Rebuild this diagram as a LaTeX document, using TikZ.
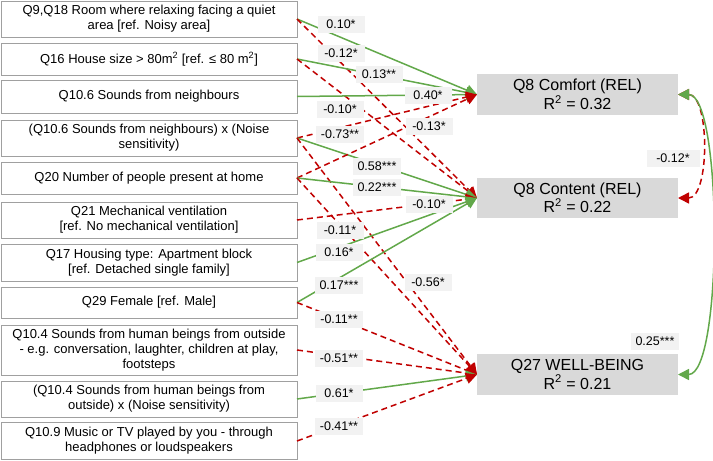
\documentclass[tikz,border=0pt]{standalone}
\usepackage{fontspec}
\setmainfont{Liberation Sans}
\usetikzlibrary{arrows.meta}
\definecolor{pgreen}{HTML}{62A84A}
\definecolor{pred}{HTML}{C00000}
\definecolor{boxgray}{HTML}{A0A0A0}
\definecolor{rfill}{HTML}{D9D9D9}
\definecolor{lfill}{HTML}{F2F2F2}
\tikzset{
  mytri/.tip={Triangle[length=11pt,width=11pt]},
  lbox/.style={draw=boxgray, line width=0.9pt, fill=white, minimum width=296pt,
    inner sep=1pt, outer sep=0pt, align=center,
    font=\fontsize{13}{15}\selectfont},
  rbox/.style={fill=rfill, minimum width=201pt, outer sep=0pt, inner sep=1pt,
    align=center, font=\fontsize{16}{18.5}\selectfont},
  posline/.style={pgreen, line width=1.5pt, -mytri},
  negline/.style={pred, line width=1.5pt, dash pattern=on 6pt off 4pt, -mytri},
  coef/.style={fill=lfill, minimum width=47pt, minimum height=17pt, inner xsep=5pt, inner ysep=1pt,
    font=\fontsize{12.5}{14}\selectfont},
}
\begin{document}
\begin{tikzpicture}[x=1pt,y=-1pt]
\useasboundingbox (0,0) rectangle (713,461);
% left boxes
\node[lbox, minimum height=36pt] (q9) at (149,19) {Q9,Q18 Room where relaxing facing a quiet\\area [ref. Noisy area]};
\node[lbox, minimum height=32pt] (q16) at (149,59) {Q16 House size > 80m\textsuperscript{2} [ref. ≤ 80 m\textsuperscript{2}]};
\node[lbox, minimum height=33pt] (q106) at (149,96.5) {Q10.6 Sounds from neighbours};
\node[lbox, minimum height=36pt] (q106x) at (149,138) {(Q10.6 Sounds from neighbours) x (Noise\\sensitivity)};
\node[lbox, minimum height=32pt] (q20) at (149,178) {Q20 Number of people present at home};
\node[lbox, minimum height=36pt] (q21) at (149,220) {Q21 Mechanical ventilation\\{}[ref. No mechanical ventilation]};
\node[lbox, minimum height=37pt] (q17) at (149,262.5) {Q17 Housing type: Apartment block\\{}[ref. Detached single family]};
\node[lbox, minimum height=31pt] (q29) at (149,302.5) {Q29 Female [ref. Male]};
\node[lbox, minimum height=50pt] (q104) at (149,350) {Q10.4 Sounds from human beings from outside\\- e.g. conversation, laughter, children at play,\\footsteps};
\node[lbox, minimum height=36pt] (q104x) at (149,399) {(Q10.4 Sounds from human beings from\\outside) x (Noise sensitivity)};
\node[lbox, minimum height=37pt] (q109) at (149,441) {Q10.9 Music or TV played by you - through\\headphones or loudspeakers};
% right boxes
\node[rbox, minimum height=41pt] (com) at (577.5,94.5) {Q8 Comfort (REL)\\R\textsuperscript{2} = 0.32};
\node[rbox, minimum height=40pt] (con) at (577.5,198) {Q8 Content (REL)\\R\textsuperscript{2} = 0.22};
\node[rbox, minimum height=41pt] (wb) at (577.5,374.5) {Q27 WELL-BEING\\R\textsuperscript{2} = 0.21};
% paths
\draw[posline] (q9.east) -- (com.west);
\draw[negline] (q9.east) -- (con.west);
\draw[posline] (q16.east) -- (com.west);
\draw[negline] (q16.east) -- (con.west);
\draw[posline] (q106.east) -- (com.west);
\draw[negline] (q106x.east) -- (com.west);
\draw[posline] (q106x.east) -- (con.west);
\draw[negline] (q106x.east) -- (wb.west);
\draw[negline] (q20.east) -- (com.west);
\draw[posline] (q20.east) -- (con.west);
\draw[negline] (q20.east) -- (wb.west);
\draw[negline] (q21.east) -- (con.west);
\draw[posline] (q17.east) -- (con.west);
\draw[posline] (q29.east) -- (con.west);
\draw[negline] (q29.east) -- (wb.west);
\draw[negline] (q104.east) -- (wb.west);
\draw[posline] (q104x.east) -- (wb.west);
\draw[negline] (q109.east) -- (wb.west);
% covariances
\draw[negline, mytri-mytri] (com.east) .. controls +(32,0) and +(32,0) .. (con.east);
\draw[posline, mytri-mytri] (com.east) .. controls +(45,0) and +(45,0) .. (wb.east);
% coefficients
\node[coef] (c1) at (341,24) {0.10*};
\node[coef] (c2) at (341,53) {-0.12*};
\node[coef] (c3) at (379,74) {0.13**};
\node[coef] (c4) at (428,95) {0.40*};
\node[coef] (c5) at (340,109) {-0.10*};
\node[coef] (c6) at (429,126) {-0.13*};
\node[coef] (c7) at (340,134) {-0.73**};
\node[coef] (c8) at (377,166) {0.58***};
\node[coef] (c9) at (377,187) {0.22***};
\node[coef] (c10) at (429,204) {-0.10*};
\node[coef] (c11) at (340,230) {-0.11*};
\node[coef] (c12) at (339,252) {0.16*};
\node[coef] (c13) at (428,282) {-0.56*};
\node[coef] (c14) at (339,285) {0.17***};
\node[coef] (c15) at (339,319) {-0.11**};
\node[coef] (c16) at (339,358) {-0.51**};
\node[coef] (c17) at (339,393) {0.61*};
\node[coef] (c18) at (339,426) {-0.41**};
\node[coef, minimum width=53pt] (c19) at (673,158) {-0.12*};
\node[coef] (c20) at (655,341) {0.25***};
\end{tikzpicture}
\end{document}
